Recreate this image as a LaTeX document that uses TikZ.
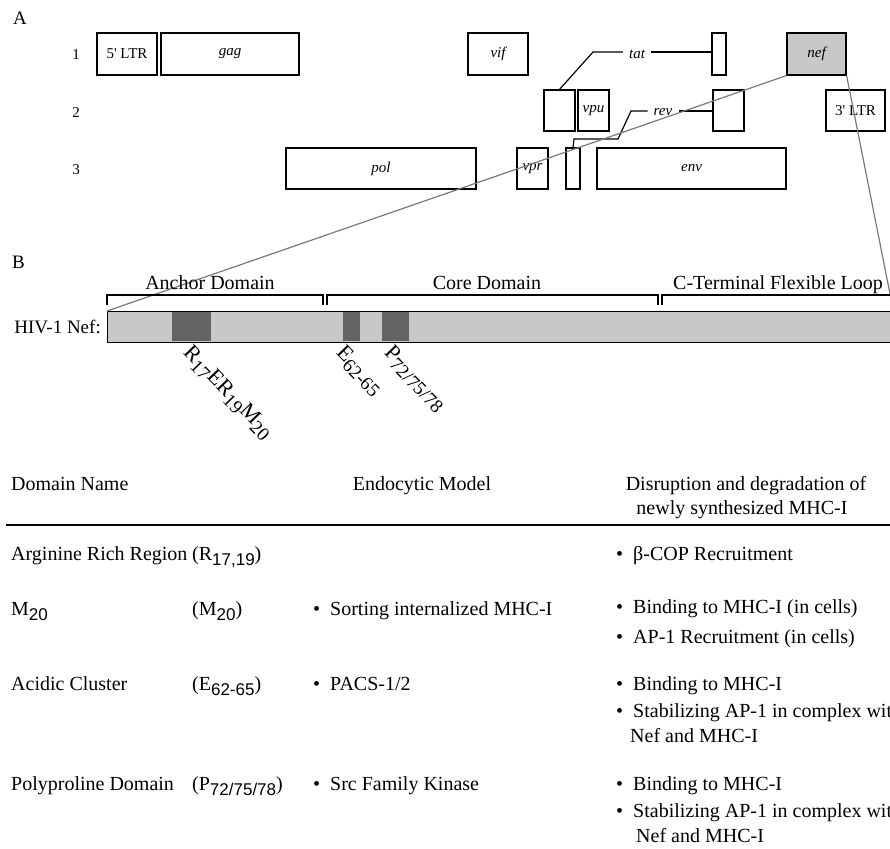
\documentclass[tikz,border=0pt]{standalone}
\usepackage{fontspec}
\setmainfont{Liberation Serif}
\newfontfamily\subsf{Liberation Sans}
\usetikzlibrary{positioning}

\definecolor{nefgray}{HTML}{C8C8C8}
\definecolor{motifgray}{HTML}{646464}
\definecolor{zoomgray}{HTML}{7A7A7A}

\newcommand{\sbs}[1]{\raisebox{-5pt}{\subsf\fontsize{17}{17}\selectfont #1}}
\newcommand{\rsb}[1]{\raisebox{-5pt}{\fontsize{19}{19}\selectfont #1}}
\newcommand{\bul}{\makebox[17pt][l]{\textbullet}}

\begin{document}
\begin{tikzpicture}[x=1pt,y=-1pt,
    every node/.style={font=\fontsize{20}{25}\selectfont, inner sep=0pt},
    gene/.style={draw, line width=1.2pt, font=\fontsize{15}{18}\selectfont\itshape},
    maplbl/.style={font=\fontsize{15}{18}\selectfont},
    orflbl/.style={font=\fontsize{15}{18}\selectfont\itshape, inner sep=6pt},
    splice/.style={line width=1.2pt},
    zoomline/.style={draw=zoomgray, line width=1.2pt},
    bracket/.style={line width=1.3pt},
    cell/.style={anchor=base west},
    motif/.style={rotate=-46, anchor=north west, font=\fontsize{22}{26}\selectfont},
    panel/.style={font=\fontsize{19}{22}\selectfont, anchor=base west}]
    \useasboundingbox (0,0) rectangle (890,848);
    \clip (0,0) rectangle (890,848);
    % A : genome map
    \node[panel] (pa) at (13,25) {A};
    \node[maplbl] (row1) at (76,55) {1};
    \node[maplbl] (row2) at (76,113) {2};
    \node[maplbl] (row3) at (76,170) {3};
    \node[gene, font=\fontsize{15}{18}\selectfont, minimum width=60, minimum height=42] (ltr5) at (127,54) {5\textquotesingle\ LTR};
    \node[gene, minimum width=138, minimum height=42] (gag) at (230,54) {gag};
    \node[gene, minimum width=60, minimum height=42] (vif) at (498,54) {vif};
    \node[gene, minimum width=14, minimum height=42] (tatb) at (719,54) {};
    \node[gene, fill=nefgray, minimum width=59, minimum height=42] (nef) at (816.5,54) {nef};
    \node[gene, minimum width=31, minimum height=41] (tata) at (559.5,110.5) {};
    \node[gene, minimum width=31, minimum height=41] (vpu) at (593.5,110.5) {vpu};
    \node[gene, minimum width=31, minimum height=41] (revb) at (728.5,110.5) {};
    \node[gene, font=\fontsize{15}{18}\selectfont, minimum width=59, minimum height=41] (ltr3) at (855.5,110.5) {3\textquotesingle\ LTR};
    \node[gene, minimum width=190, minimum height=41] (pol) at (381,168.5) {pol};
    \node[gene, minimum width=31, minimum height=41] (vpr) at (532.5,168.5) {vpr};
    \node[gene, minimum width=14, minimum height=41] (reva) at (573,168.5) {};
    \node[gene, minimum width=189, minimum height=41] (env) at (691.5,168.5) {env};
    % spliced exons
    \node[orflbl] (tat) at (637,54) {tat};
    \draw[splice] (tata.north) -- (593,52) -- (tat.west |- 0,52);
    \draw[splice] (tat.east |- 0,52) -- (tatb.west |- 0,52);
    \node[orflbl] (rev) at (663,112) {rev};
    \draw[splice] (reva.north) -- (574,139) -- (618,139) -- (631,111) -- (rev.west |- 0,111);
    \draw[splice] (rev.east |- 0,111) -- (revb.west |- 0,111);
    % B : Nef protein
    \node[panel] (pb) at (12,268) {B};
    \node[draw, fill=nefgray, line width=1.4pt, minimum width=785, minimum height=31, anchor=north west] (nefbar) at (107,311) {};
    \fill[motifgray] (172,312) rectangle (211,341);
    \fill[motifgray] (343,312) rectangle (360,341);
    \fill[motifgray] (382,312) rectangle (409,341);
    \node[left=6pt of nefbar.west, font=\fontsize{19}{22}\selectfont] (neflbl) {HIV-1 Nef:};
    \draw[zoomline] (nef.south west) -- (nefbar.north west);
    \draw[zoomline] (nef.south east) -- (nefbar.north east);
    \draw[bracket] (107,305) |- (323,295) -- (323,305);
    \draw[bracket] (327,305) |- (658,295) -- (658,305);
    \draw[bracket] (662,305) |- (895,295);
    \node[anchor=base] (anchor) at (210,289) {Anchor Domain};
    \node[anchor=base] (core) at (487,289) {Core Domain};
    \node[anchor=base] (cterm) at (778,289) {C-Terminal Flexible Loop};
    \node[motif] (rer) at (193,343) {R\rsb{17}ER\rsb{19}M\rsb{20}};
    \node[motif] (acid) at (346,343) {E\rsb{62-65}};
    \node[motif] (pxxp) at (394,343) {P\rsb{72/75/78}};
    % table
    \node[cell] (hdom) at (11,490) {Domain Name};
    \node[anchor=base] (hendo) at (422,490) {Endocytic Model};
    \node[anchor=base] (hdis) at (746,490) {Disruption and degradation of};
    \node[anchor=base] (hdis2) at (742,514) {newly synthesized MHC-I};
    \draw[line width=1.8pt] (6,525) -- (890,525);
    \node[cell] (arg) at (11,560) {Arginine Rich Region};
    \node[cell] (argres) at (192,560) {(R\sbs{17,19})};
    \node[cell] (argd1) at (616,560) {\bul β-COP Recruitment};
    \node[cell] (met) at (11,615) {M\sbs{20}};
    \node[cell] (metres) at (192,615) {(M\sbs{20})};
    \node[cell] (mete) at (313,615) {\bul Sorting internalized MHC-I};
    \node[cell] (metd1) at (616,613) {\bul Binding to MHC-I (in cells)};
    \node[cell] (metd2) at (616,643) {\bul AP-1 Recruitment (in cells)};
    \node[cell] (acl) at (11,690) {Acidic Cluster};
    \node[cell] (aclres) at (192,690) {(E\sbs{62-65})};
    \node[cell] (acle) at (313,690) {\bul PACS-1/2};
    \node[cell] (acld1) at (616,690) {\bul Binding to MHC-I};
    \node[cell] (acld2) at (616,717) {\bul Stabilizing AP-1 in complex with};
    \node[cell] (acld3) at (630,742) {Nef and MHC-I};
    \node[cell] (ppd) at (11,790) {Polyproline Domain};
    \node[cell] (ppdres) at (192,790) {(P\sbs{72/75/78})};
    \node[cell] (ppde) at (313,790) {\bul Src Family Kinase};
    \node[cell] (ppdd1) at (616,790) {\bul Binding to MHC-I};
    \node[cell] (ppdd2) at (616,817) {\bul Stabilizing AP-1 in complex with};
    \node[cell] (ppdd3) at (636,842) {Nef and MHC-I};
  \end{tikzpicture}
\end{document}
